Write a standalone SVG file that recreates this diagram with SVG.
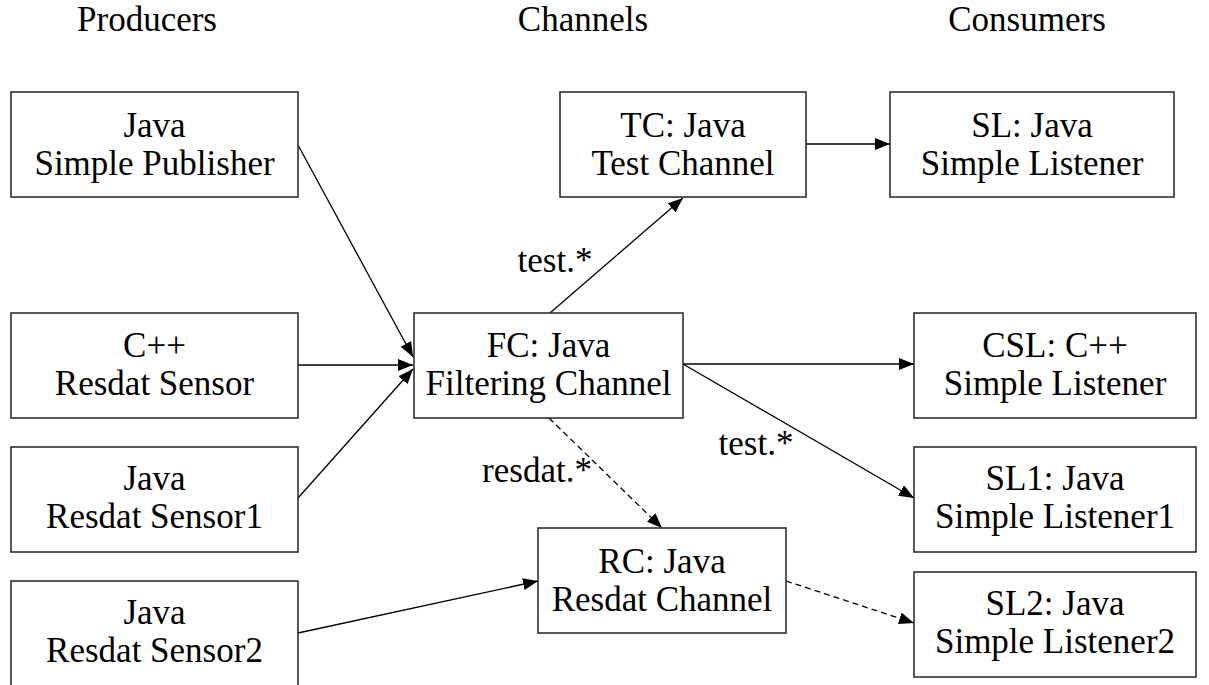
<svg xmlns="http://www.w3.org/2000/svg" width="1209" height="685" viewBox="0 0 1209 685">
<style>
text{font-family:"Liberation Serif","Times New Roman",serif;font-size:35px;fill:#000;text-anchor:middle}
.box{fill:#fff;stroke:#222;stroke-width:1.5}
.edge{fill:none;stroke:#000;stroke-width:1.3}
.dash{stroke-dasharray:6,4}
</style>
<defs>
<marker id="ah" markerUnits="userSpaceOnUse" markerWidth="15" markerHeight="12" refX="15" refY="6" orient="auto">
<path d="M0,0 L15,6 L0,12 z" fill="#000"/>
</marker>
</defs>
<rect width="1209" height="685" fill="#fff"/>
<g id="headers">
<text x="147" y="31">Producers</text>
<text x="583" y="31">Channels</text>
<text x="1027" y="31">Consumers</text>
</g>
<g id="connectors">
<line class="edge" x1="298" y1="145" x2="413" y2="357" marker-end="url(#ah)"/>
<line class="edge" x1="298" y1="365" x2="413" y2="365" marker-end="url(#ah)"/>
<line class="edge" x1="298" y1="498" x2="413" y2="369" marker-end="url(#ah)"/>
<line class="edge" x1="550" y1="313" x2="683" y2="198" marker-end="url(#ah)"/>
<line class="edge" x1="806" y1="144" x2="890" y2="144" marker-end="url(#ah)"/>
<line class="edge" x1="683" y1="364" x2="914" y2="364" marker-end="url(#ah)"/>
<line class="edge" x1="683" y1="364" x2="914" y2="498" marker-end="url(#ah)"/>
<line class="edge dash" x1="549" y1="418" x2="662" y2="528" marker-end="url(#ah)"/>
<line class="edge" x1="298" y1="633" x2="538" y2="581" marker-end="url(#ah)"/>
<line class="edge dash" x1="786" y1="581" x2="914" y2="623" marker-end="url(#ah)"/>
<text x="555" y="272">test.*</text>
<text x="756" y="455">test.*</text>
<text x="537" y="482">resdat.*</text>
</g>
<g id="pub"><rect class="box" x="11" y="92" width="287" height="105"/><text x="154.5" y="137">Java</text><text x="154.5" y="175">Simple Publisher</text></g>
<g id="cpp"><rect class="box" x="11" y="313" width="287" height="105"/><text x="154.5" y="357">C++</text><text x="154.5" y="395">Resdat Sensor</text></g>
<g id="rs1"><rect class="box" x="11" y="447" width="287" height="105"/><text x="154.5" y="490">Java</text><text x="154.5" y="528">Resdat Sensor1</text></g>
<g id="rs2"><rect class="box" x="11" y="581" width="287" height="105"/><text x="154.5" y="624">Java</text><text x="154.5" y="662">Resdat Sensor2</text></g>
<g id="tc"><rect class="box" x="560" y="92" width="246" height="105"/><text x="683" y="137">TC: Java</text><text x="683" y="175">Test Channel</text></g>
<g id="fc"><rect class="box" x="414" y="313" width="269" height="105"/><text x="548.5" y="357">FC: Java</text><text x="548.5" y="395">Filtering Channel</text></g>
<g id="rc"><rect class="box" x="538" y="528" width="248" height="105"/><text x="662" y="573">RC: Java</text><text x="662" y="611">Resdat Channel</text></g>
<g id="sl"><rect class="box" x="890" y="92" width="284" height="105"/><text x="1032" y="137">SL: Java</text><text x="1032" y="175">Simple Listener</text></g>
<g id="csl"><rect class="box" x="914" y="313" width="282" height="105"/><text x="1055" y="357">CSL: C++</text><text x="1055" y="395">Simple Listener</text></g>
<g id="sl1"><rect class="box" x="914" y="447" width="282" height="105"/><text x="1055" y="490">SL1: Java</text><text x="1055" y="528">Simple Listener1</text></g>
<g id="sl2"><rect class="box" x="914" y="572" width="282" height="105"/><text x="1055" y="615">SL2: Java</text><text x="1055" y="653">Simple Listener2</text></g>
</svg>
